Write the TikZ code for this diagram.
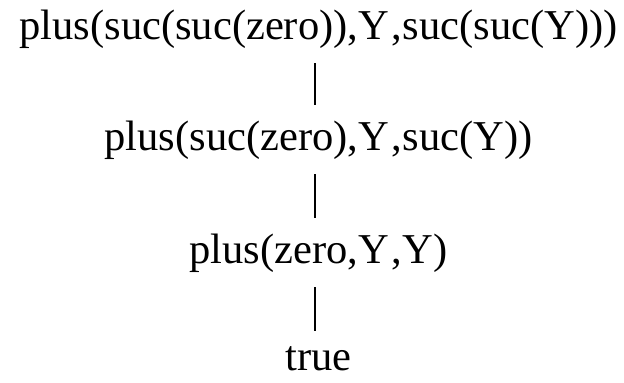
\documentclass[tikz,border=0pt]{standalone}
\usepackage{fontspec}
\setmainfont{Liberation Serif}[Kerning=Off]
\newcommand{\Ygap}{Y\kern2.2pt}
\begin{document}
\begin{tikzpicture}[x=0.75pt,y=-0.75pt,
  term/.style={anchor=base,inner xsep=0pt,inner ysep=11.25pt,font=\fontsize{31.9}{38}\selectfont},
  link/.style={line width=1.5pt}]
\useasboundingbox (0,0) rectangle (624,382);
\node[term] (t1) at (318.5,39) {plus(suc(suc(zero)),\Ygap,suc(suc(Y)))};
\node[term] (t2) at (318.5,150) {plus(suc(zero),\Ygap,suc(Y))};
\node[term] (t3) at (318.5,263) {plus(zero,\Ygap,Y)};
\node[term] (t4) at (318.5,370) {true};
\draw[link] ([xshift=-2.6pt]t1.south) -- ([xshift=-2.6pt]t2.north);
\draw[link] ([xshift=-2.6pt]t2.south) -- ([xshift=-2.6pt]t3.north);
\draw[link] ([xshift=-2.6pt]t3.south) -- ([xshift=-2.6pt]t4.north);
\end{tikzpicture}
\end{document}
